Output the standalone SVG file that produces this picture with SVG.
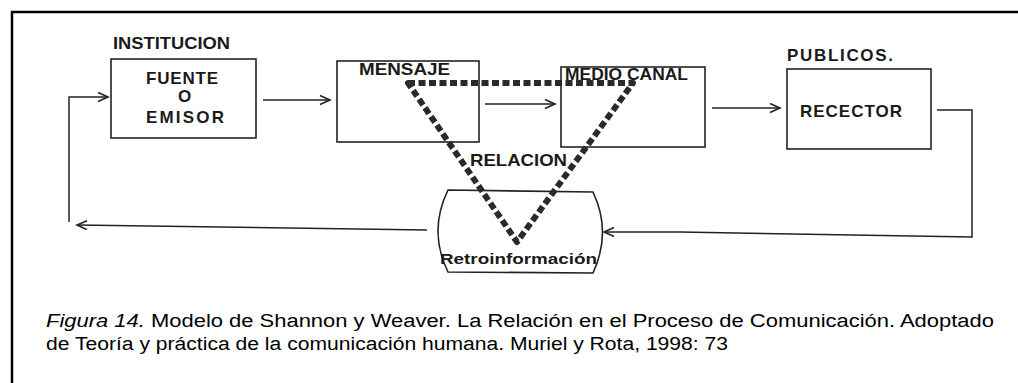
<svg xmlns="http://www.w3.org/2000/svg" width="1018" height="383" viewBox="0 0 1018 383">
<style>
.frame{fill:none;stroke:#000;stroke-width:2.5}
.box{fill:none;stroke:#222;stroke-width:1.6}
.line{fill:none;stroke:#222;stroke-width:1.5}
.dash{fill:none;stroke:#2a2a2a;stroke-width:6;stroke-dasharray:7 3.5;stroke-linejoin:round}
.lbl{font-family:"Liberation Sans",Arial,sans-serif;font-weight:bold;fill:#1a1a1a}
.cap{font-family:"Liberation Sans",Arial,sans-serif;font-size:18px;fill:#000}
</style>
<defs>
<marker id="ah" markerUnits="userSpaceOnUse" markerWidth="14" markerHeight="12" refX="11" refY="5" orient="auto">
<path d="M1,0.5 L11,5 L1,9.5" fill="none" stroke="#222" stroke-width="1.6"/>
</marker>
</defs>
<rect width="1018" height="383" fill="#fff"/>
<path class="frame" d="M12,383 V12 H1018"/>

<g id="fuente">
<text class="lbl" x="113" y="49" font-size="16" textLength="117" lengthAdjust="spacingAndGlyphs">INSTITUCION</text>
<rect class="box" x="111" y="59" width="145" height="79"/>
<text class="lbl" x="146" y="84" font-size="17" textLength="72">FUENTE</text>
<text class="lbl" x="178" y="102" font-size="17">O</text>
<text class="lbl" x="146" y="123" font-size="17" textLength="78">EMISOR</text>
</g>

<g id="mensaje">
<rect class="box" x="337" y="61" width="142" height="81"/>
<text class="lbl" x="359" y="74.5" font-size="17" textLength="91" lengthAdjust="spacingAndGlyphs">MENSAJE</text>
</g>

<g id="medio">
<rect class="box" x="561" y="67" width="144" height="80"/>
<text class="lbl" x="565" y="79.5" font-size="16.5" textLength="123" lengthAdjust="spacingAndGlyphs">MEDIO CANAL</text>
</g>

<g id="receptor">
<text class="lbl" x="787" y="61" font-size="17" textLength="106">PUBLICOS.</text>
<rect class="box" x="787" y="69" width="144" height="80"/>
<text class="lbl" x="800" y="117" font-size="17" textLength="102">RECECTOR</text>
</g>

<g id="retro">
<path class="box" d="M448,190 L593,192 Q612,232 593,273 L448,272 Q428,231 448,190 Z"/>
<text class="lbl" x="440" y="264" font-size="15" textLength="157" lengthAdjust="spacingAndGlyphs">Retroinformación</text>
</g>

<g id="relacion">
<path class="dash" d="M408,83 H633 L517,242 Z"/>
<text class="lbl" x="470" y="166" font-size="16.5" textLength="97" lengthAdjust="spacingAndGlyphs">RELACION</text>
</g>

<g id="connectors">
<line class="line" x1="263" y1="100" x2="330" y2="100" marker-end="url(#ah)"/>
<line class="line" x1="485" y1="104" x2="555" y2="104" marker-end="url(#ah)"/>
<line class="line" x1="712" y1="108" x2="780" y2="108" marker-end="url(#ah)"/>
<polyline class="line" points="937,110 972,110 972,237 680,232 604,232" marker-end="url(#ah)"/>
<line class="line" x1="427" y1="230" x2="77" y2="225" marker-end="url(#ah)"/>
<polyline class="line" points="69,222 69,97 108,97" marker-end="url(#ah)"/>
</g>

<text class="cap" x="46" y="327" textLength="948" lengthAdjust="spacingAndGlyphs"><tspan font-style="italic">Figura 14.</tspan> Modelo de Shannon y Weaver. La Relación en el Proceso de Comunicación. Adoptado</text>
<text class="cap" x="46" y="350" textLength="682" lengthAdjust="spacingAndGlyphs">de Teoría y práctica de la comunicación humana. Muriel y Rota, 1998: 73</text>
</svg>
